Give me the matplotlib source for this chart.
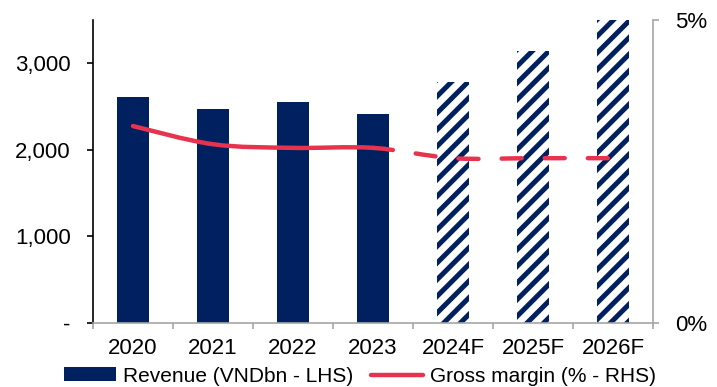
import numpy as np
import matplotlib
matplotlib.use('Agg')
import matplotlib.pyplot as plt
from matplotlib.path import Path
from matplotlib.patches import PathPatch, Patch
from matplotlib.lines import Line2D
from matplotlib.ticker import FuncFormatter, FixedLocator

# data
years = ['2020', '2021', '2022', '2023', '2024F', '2025F', '2026F']
revenue = [2607, 2468, 2549, 2411, 2780, 3137, 3505]
gross_margin = [3.25, 2.95, 2.89, 2.89, 2.72, 2.72, 2.72]
n_actual = 4  # 2020-2023 actual, rest forecast

navy = '#002060'
red = '#E8334F'
grey = '#A6A6A6'

plt.rcParams['font.family'] = ['Liberation Sans', 'DejaVu Sans']
plt.rcParams['font.size'] = 16
plt.rcParams['hatch.linewidth'] = 3.6

fig = plt.figure(figsize=(7.17, 3.87), dpi=100)
ax = fig.add_axes([0.1297, 0.1654, 0.781, 0.7829])
ax2 = ax.twinx()

x = np.arange(len(years))
for i in range(len(years)):
    if i < n_actual:
        ax.bar(x[i], revenue[i], width=0.4, color=navy, linewidth=0)
    else:
        ax.bar(x[i], revenue[i], width=0.4, facecolor='white', edgecolor=navy,
               hatch='//', linewidth=0)

ax.set_xlim(-0.5, len(years) - 0.5)
ax.set_ylim(0, 3500)
ax.set_yticks([0, 1000, 2000, 3000])
ax.yaxis.set_major_formatter(FuncFormatter(lambda v, p: '-' if v == 0 else '{:,.0f}'.format(v)))
ax.tick_params(axis='y', length=4, width=1.2, color='black', pad=12)

ax.set_xticks(x)
ax.set_xticklabels(years)
ax.tick_params(axis='x', which='major', length=0, pad=11)
ax.xaxis.set_minor_locator(FixedLocator(np.arange(-0.5, len(years), 1.0)))
ax.tick_params(axis='x', which='minor', length=4, width=1.2, color=grey)

ax.spines['top'].set_visible(False)
ax.spines['right'].set_visible(False)
ax.spines['bottom'].set_color(grey)
ax.spines['bottom'].set_linewidth(1.2)
ax.spines['left'].set_linewidth(1.2)

ax2.set_ylim(0, 5)
ax2.set_yticks([0, 5])
ax2.yaxis.set_major_formatter(FuncFormatter(lambda v, p: '{:.0f}%'.format(v)))
ax2.tick_params(axis='y', length=4, width=1.2, color=grey, pad=12)
ax2.spines['top'].set_visible(False)
ax2.spines['left'].set_visible(False)
ax2.spines['bottom'].set_visible(False)
ax2.spines['right'].set_color(grey)
ax2.spines['right'].set_linewidth(1.2)


# smoothed line (Bezier through the data points, like a spreadsheet smooth line)
def smooth_path(xs, ys, start, stop):
    verts = [(xs[start], ys[start])]
    codes = [Path.MOVETO]
    n = len(xs)
    for i in range(start, stop):
        p_prev = max(i - 1, 0)
        p_next2 = min(i + 2, n - 1)
        c1 = (xs[i] + (xs[i + 1] - xs[p_prev]) / 6.0, ys[i] + (ys[i + 1] - ys[p_prev]) / 6.0)
        c2 = (xs[i + 1] - (xs[p_next2] - xs[i]) / 6.0, ys[i + 1] - (ys[p_next2] - ys[i]) / 6.0)
        verts += [c1, c2, (xs[i + 1], ys[i + 1])]
        codes += [Path.CURVE4] * 3
    return Path(verts, codes)


solid = PathPatch(smooth_path(x, gross_margin, 0, n_actual - 1), facecolor='none',
                  edgecolor=red, linewidth=3.2, capstyle='round', joinstyle='round')
dashed = PathPatch(smooth_path(x, gross_margin, n_actual - 1, len(years) - 1), facecolor='none',
                   edgecolor=red, linewidth=3.2, capstyle='round', linestyle=(0, (4.5, 5.2)))
ax2.add_patch(solid)
ax2.add_patch(dashed)

handles = [Patch(facecolor=navy, label='Revenue (VNDbn - LHS)'),
           Line2D([0], [0], color=red, linewidth=3.2, solid_capstyle='round',
                  label='Gross margin (% - RHS)')]
fig.legend(handles=handles, loc='center', bbox_to_anchor=(0.502, 0.028), ncol=2,
           frameon=False, fontsize=15, handlelength=2.5, handleheight=0.65,
           handletextpad=0.35, columnspacing=0.85, borderpad=0, borderaxespad=0)

fig.savefig('out.png', dpi=100)
